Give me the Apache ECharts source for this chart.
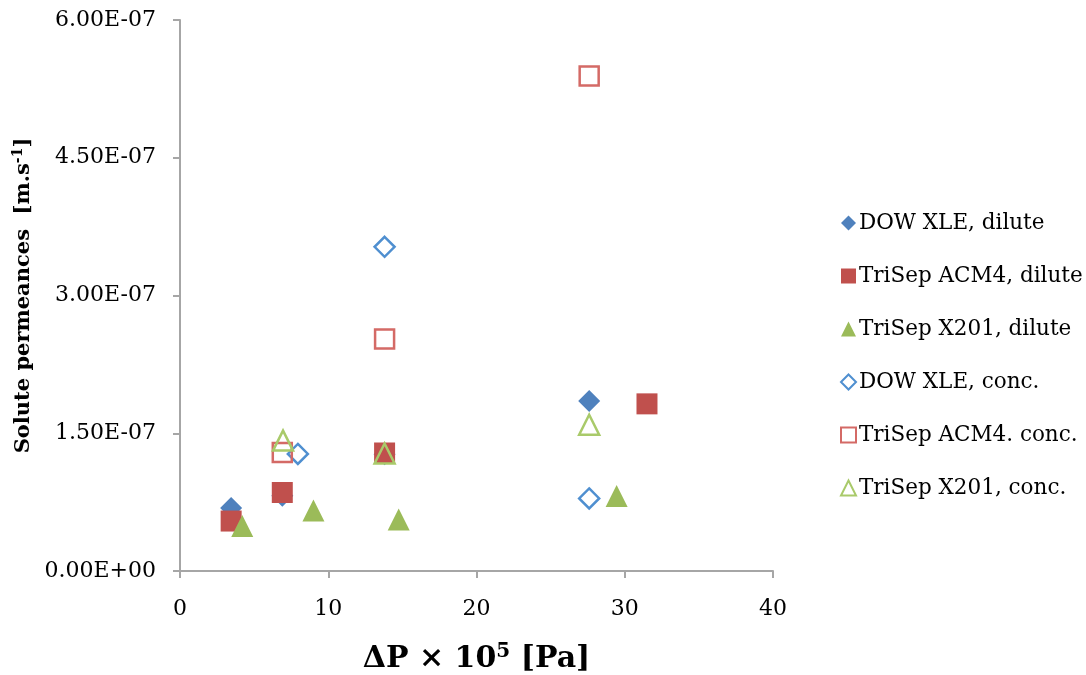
<!DOCTYPE html>
<html><head><meta charset="utf-8">
<script src="https://cdn.jsdelivr.net/npm/echarts@6/dist/echarts.min.js"></script>
<style>html,body{margin:0;padding:0;background:#fff}#c{width:1086px;height:675px}</style>
</head><body><div id="c"></div>
<script>
const seriesNames = ["DOW XLE, dilute","TriSep ACM4, dilute","TriSep X201, dilute","DOW XLE, conc.","TriSep ACM4. conc.","TriSep X201, conc."];
const dowDilute = [[3.45,6.86e-8],[6.9,8.2e-8],[13.8,1.27e-7],[27.6,1.85e-7]];
const acm4Dilute = [[3.45,5.44e-8],[6.9,8.55e-8],[13.8,1.285e-7],[31.5,1.82e-7]];
const x201Dilute = [[4.2,4.9e-8],[9.0,6.6e-8],[14.75,5.6e-8],[29.45,8.17e-8]];
const dowConc = [[7.95,1.275e-7],[13.8,3.53e-7],[27.6,7.9e-8]];
const acm4Conc = [[6.9,1.29e-7],[13.8,2.526e-7],[27.6,5.39e-7]];
const x201Conc = [[6.95,1.42e-7],[13.8,1.28e-7],[27.6,1.593e-7]];

const F = "DejaVu Serif";
function fmt(v){
  if (v === 0) return "0.00E+00";
  let e = Math.floor(Math.log10(Math.abs(v)) + 1e-9);
  let m = v / Math.pow(10, e);
  let s = e < 0 ? "-" : "+";
  let ae = Math.abs(e);
  return m.toFixed(2) + "E" + s + (ae < 10 ? "0" + ae : ae);
}
const chart = echarts.init(document.getElementById('c'));
const blue = "#4F81BD", red = "#C0504D", green = "#9BBB59";
function filled(name, data, symbol, color, size){
  return {name, type:'scatter', data, symbol, symbolSize:size, itemStyle:{color:color, opacity:1}};
}
function open(name, data, symbol, color, size){
  return {name, type:'scatter', data, symbol, symbolSize:size, itemStyle:{color:'rgba(255,255,255,0)', borderColor:color, borderWidth:2.5, opacity:1}};
}
chart.setOption({
  animation:false,
  grid:{left:180, right:313, top:20, bottom:104, containLabel:false, outerBoundsMode:'none'},
  xAxis:{type:'value', min:0, max:40, interval:10,
    axisLine:{lineStyle:{color:'#A6A6A6', width:2}},
    axisTick:{show:true, length:7, lineStyle:{color:'#A6A6A6', width:2}},
    splitLine:{show:false},
    axisLabel:{fontFamily:F, fontSize:22, color:'#000', margin:27},
    name:'{b|ΔP × 10}{sup|5}{b| [Pa]}', nameLocation:'middle', nameGap:71,
    nameTextStyle:{rich:{b:{fontFamily:F, fontWeight:'bold', fontSize:30, color:'#000'}, sup:{fontFamily:F, fontWeight:'bold', fontSize:20, color:'#000', verticalAlign:'top', padding:[0,0,14,0]}}}
  },
  yAxis:{type:'value', min:0, max:6e-7, interval:1.5e-7,
    axisLine:{show:true, lineStyle:{color:'#A6A6A6', width:2}},
    axisTick:{show:true, length:7, lineStyle:{color:'#A6A6A6', width:2}},
    splitLine:{show:false},
    axisLabel:{fontFamily:F, fontSize:22, color:'#000', margin:24, formatter:fmt},
    name:'{b|Solute permeances  [m.s}{sup|-1}{b|]}', nameLocation:'middle', nameGap:140,
    nameTextStyle:{rich:{b:{fontFamily:F, fontWeight:'bold', fontSize:21, color:'#000'}, sup:{fontFamily:F, fontWeight:'bold', fontSize:14, color:'#000', verticalAlign:'top', padding:[0,0,10,0]}}}
  },
  legend:{orient:'vertical', left:835, top:207, itemGap:31, itemWidth:15, itemHeight:15,
    textStyle:{fontFamily:F, fontSize:21.5, color:'#000', padding:[0,0,0,-2]},
    data:seriesNames},
  series:[
    filled(seriesNames[0], dowDilute, 'diamond', blue, 22),
    filled(seriesNames[1], acm4Dilute, 'rect', red, 21),
    filled(seriesNames[2], x201Dilute, 'triangle', green, 22),
    open(seriesNames[3], dowConc, 'diamond', '#4F8FD0', 20),
    open(seriesNames[4], acm4Conc, 'rect', '#D46A66', 19),
    open(seriesNames[5], x201Conc, 'triangle', '#A9CA6A', 20)
  ]
});
</script></body></html>
